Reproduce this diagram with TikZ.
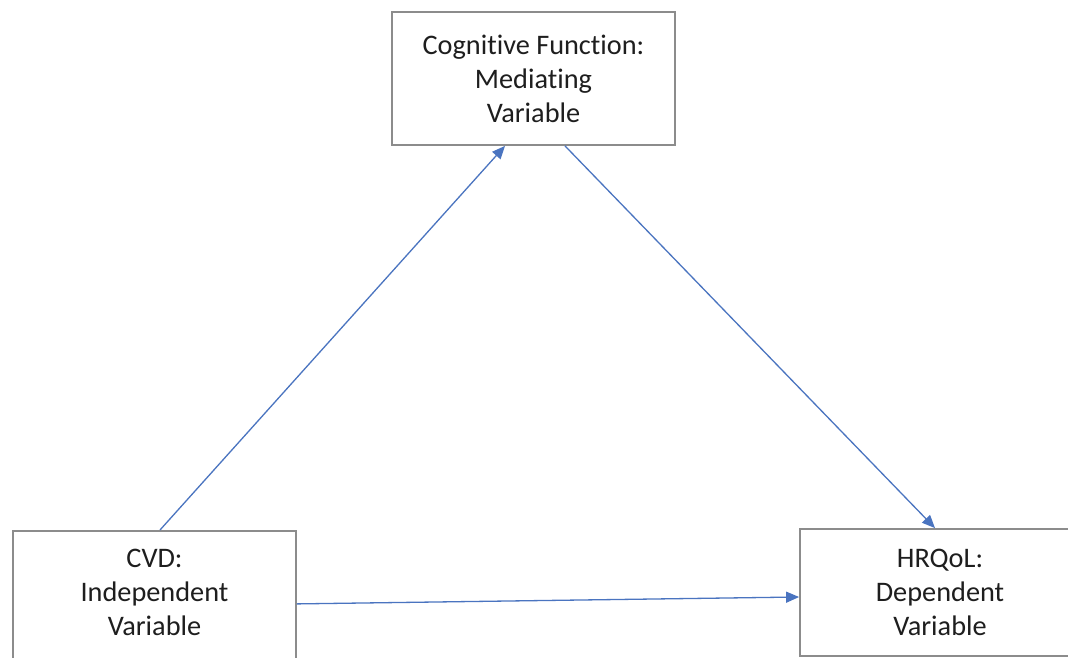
\documentclass[tikz,border=0pt]{standalone}
\usepackage{fontspec}
\setmainfont{Carlito}[RawFeature={-liga;-clig;-calt;-dlig}]
\usetikzlibrary{arrows.meta}
\definecolor{boxgray}{HTML}{8C8C8C}
\definecolor{arrowblue}{HTML}{4A74C0}
\definecolor{txt}{HTML}{1E1E1E}
\tikzset{
  varbox/.style={draw=boxgray, line width=1.8pt, fill=white, inner sep=0pt},
  vartext/.style={align=center, text=txt, font=\fontsize{28.3}{34}\selectfont, inner sep=0pt},
  conn/.style={draw=arrowblue, line width=1.3pt, -{Triangle[length=13pt,width=11pt]}}
}
\begin{document}
\begin{tikzpicture}[x=1pt,y=-1pt]
\useasboundingbox (0,0) rectangle (1068,658);
\clip (0,0) rectangle (1068,658);
\fill[white] (0,0) rectangle (1068,658);
% Top box
\node[varbox, vartext, minimum width=283pt, minimum height=133pt] (cog) at (533.5,78.5) {Cognitive Function:\\Mediating\\Variable};
% Left box (bottom runs off the page)
\node[varbox, minimum width=283pt, minimum height=160pt, anchor=north] (cvd) at (154.5,530) {};
\node[vartext] (cvdtext) at (154.5,592) {CVD:\\Independent\\Variable};
% Right box
\node[varbox, vartext, minimum width=280pt, minimum height=127pt] (hrq) at (940,592.5) {HRQoL:\\Dependent\\Variable};
% Connectors
\draw[conn] ([xshift=5.5pt]cvd.north) -- ([xshift=-28.5pt]cog.south);
\draw[conn] ([xshift=31.5pt]cog.south) -- ([xshift=-5pt]hrq.north);
\draw[conn] ([yshift=7pt]cvd.east) -- ([yshift=-4.5pt]hrq.west);
\end{tikzpicture}
\end{document}
